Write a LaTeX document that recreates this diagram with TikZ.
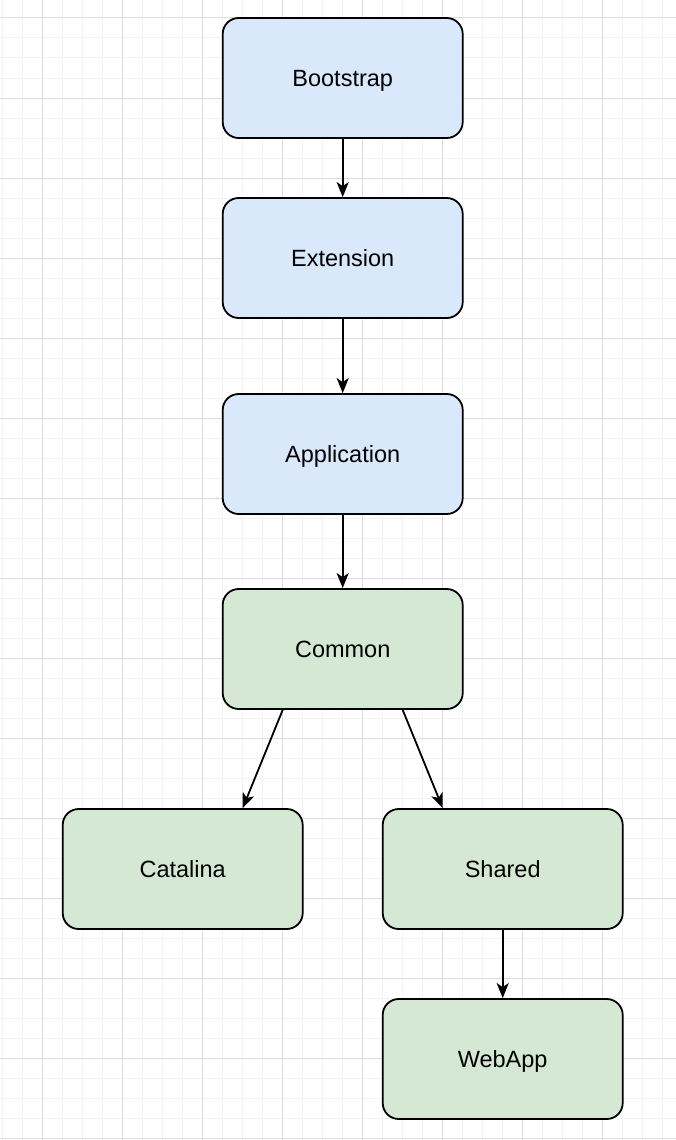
\documentclass[tikz,border=0pt]{standalone}
\usepackage{fontspec}
\setmainfont{Liberation Sans}
\usetikzlibrary{arrows.meta}

\definecolor{layerblue}{HTML}{DAE8FC}
\definecolor{layergreen}{HTML}{D5E8D4}
\definecolor{gridminor}{HTML}{F3F3F3}
\definecolor{gridmajor}{HTML}{DCDCDC}

\begin{document}
\begin{tikzpicture}[x=1pt, y=-1pt,
	loader/.style={draw=black, line width=1.8pt, rounded corners=16pt,
		minimum width=240pt, minimum height=120pt, inner sep=0pt,
		text height=16pt, text depth=0pt,
		font=\fontsize{23.5}{28}\selectfont},
	blueloader/.style={loader, fill=layerblue},
	greenloader/.style={loader, fill=layergreen},
	parentof/.style={-{Stealth[length=15pt, width=12pt, inset=4pt]}, line width=1.8pt}]

	\useasboundingbox (0,0) rectangle (676,1140);
	\fill[white] (0,0) rectangle (676,1140);

	% background grid
	\foreach \gx in {0,...,33}
		\draw[gridminor, line width=1pt] (2.7+20*\gx,0) -- (2.7+20*\gx,1140);
	\foreach \gy in {0,...,56}
		\draw[gridminor, line width=1pt] (0,18+20*\gy) -- (676,18+20*\gy);
	\foreach \gx in {0,...,7}
		\draw[gridmajor, line width=1pt] (42.7+80*\gx,0) -- (42.7+80*\gx,1140);
	\foreach \gy in {0,...,14}
		\draw[gridmajor, line width=1pt] (0,18+80*\gy) -- (676,18+80*\gy);

	% class loaders
	\node[blueloader] (bootstrap) at (342.7,78) {Bootstrap};
	\node[blueloader] (extension) at (342.7,258) {Extension};
	\node[blueloader] (application) at (342.7,454) {Application};
	\node[greenloader] (common) at (342.7,649) {Common};
	\node[greenloader] (catalina) at (182.7,869) {Catalina};
	\node[greenloader] (shared) at (502.7,869) {Shared};
	\node[greenloader] (webapp) at (502.7,1059) {WebApp};

	% delegation
	\draw[parentof] (bootstrap) -- (extension);
	\draw[parentof] (extension) -- (application);
	\draw[parentof] (application) -- (common);
	\draw[parentof] ([xshift=-60pt]common.south) -- ([xshift=60pt]catalina.north);
	\draw[parentof] ([xshift=60pt]common.south) -- ([xshift=-60pt]shared.north);
	\draw[parentof] (shared) -- (webapp);

\end{tikzpicture}
\end{document}
